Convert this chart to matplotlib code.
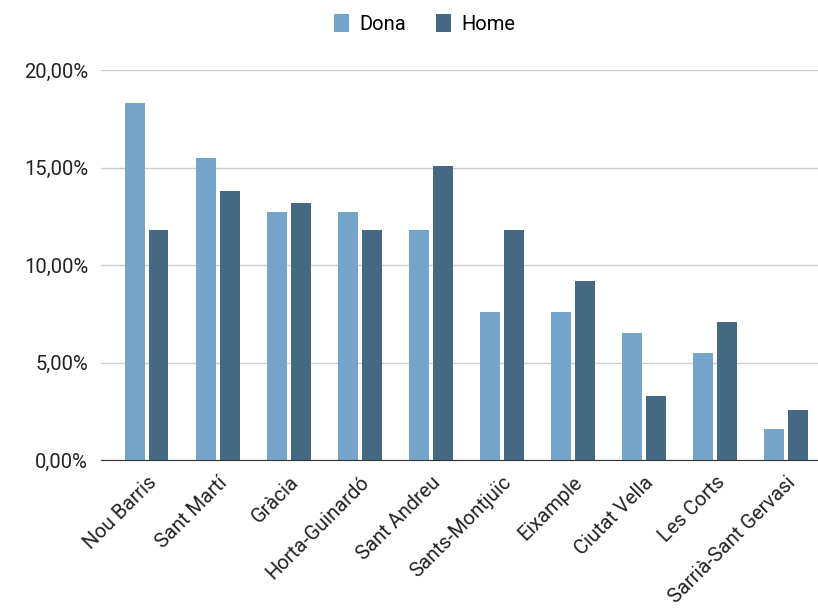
import matplotlib.pyplot as plt
import numpy as np
from matplotlib.ticker import FuncFormatter

plt.rcParams["font.family"] = ["Roboto", "DejaVu Sans"]

districtes = ["Nou Barris", "Sant Martí", "Gràcia", "Horta-Guinardó", "Sant Andreu",
              "Sants-Montjuïc", "Eixample", "Ciutat Vella", "Les Corts", "Sarrià-Sant Gervasi"]
dona = [18.3, 15.5, 12.7, 12.7, 11.8, 7.6, 7.6, 6.5, 5.5, 1.6]
home = [11.8, 13.8, 13.2, 11.8, 15.1, 11.8, 9.2, 3.3, 7.1, 2.6]

fig = plt.figure(figsize=(8.18, 6.08), dpi=100)
ax = fig.add_axes([0.123, 0.243, 0.877, 0.642])

x = np.arange(len(districtes))
w = 0.28
ax.bar(x - w / 2 - 0.028, dona, width=w, color="#75a5cb", label="Dona", zorder=3)
ax.bar(x + w / 2 + 0.028, home, width=w, color="#466983", label="Home", zorder=3)

ax.set_ylim(0, 20)
ax.set_xlim(-0.647, 9.45)
ax.set_yticks([0, 5, 10, 15, 20])
ax.yaxis.set_major_formatter(FuncFormatter(lambda v, p: f"{v:.2f}%".replace(".", ",")))
ax.grid(axis="y", color="#cccccc", linewidth=1, zorder=0)
for s in ["top", "right", "left"]:
    ax.spines[s].set_visible(False)
ax.spines["bottom"].set_color("#333333")
ax.spines["bottom"].set_zorder(4)
ax.tick_params(axis="both", length=0, labelsize=14.5, colors="#222222", pad=9)
ax.set_xticks(x)
ax.set_xticklabels(districtes, rotation=45, ha="right", rotation_mode="anchor")

fig.legend(loc="upper center", bbox_to_anchor=(0.519, 1.007), ncol=2, frameon=False,
           fontsize=14.5, handlelength=0.75, handleheight=1.0, columnspacing=1.5, handletextpad=0.5)

fig.savefig("out.png", dpi=100)
plt.close()
